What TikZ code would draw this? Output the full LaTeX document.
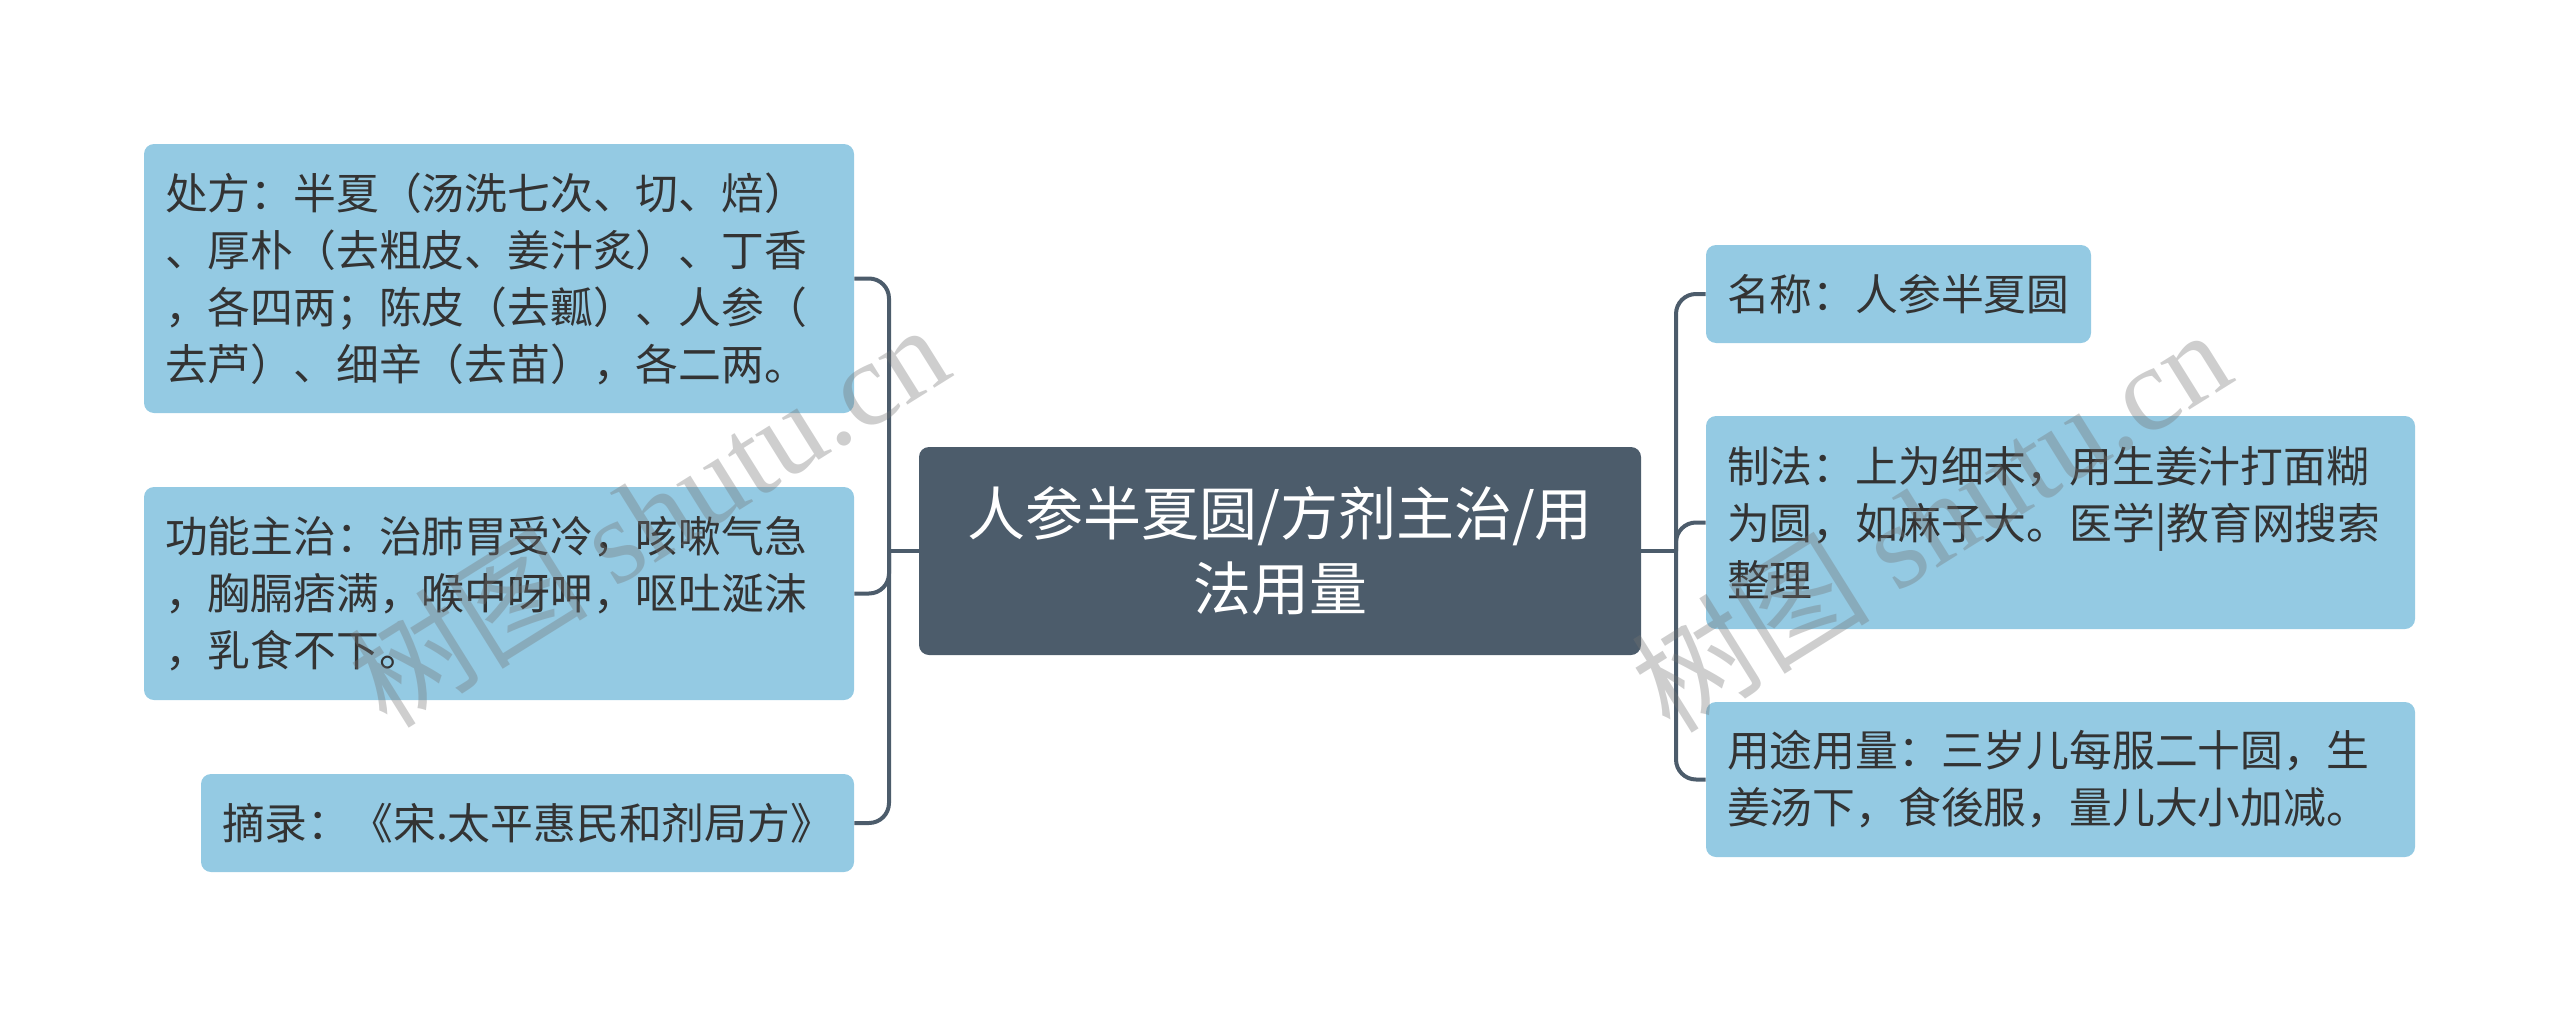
\documentclass[tikz,border=0pt]{standalone}
\usepackage{fontspec}
\setmainfont{Noto Sans CJK SC}
\newfontfamily\marksans{Noto Sans CJK SC}
\newfontfamily\markserif{Liberation Serif}
\usetikzlibrary{positioning}

\definecolor{leafblue}{RGB}{148,202,227}
\definecolor{rootslate}{RGB}{76,92,107}
\definecolor{inkgray}{RGB}{51,51,51}

\tikzset{
  leaf/.style={fill=leafblue, rounded corners=5pt, text=inkgray, align=left,
    inner xsep=10.5pt, inner ysep=0pt, font=\fontsize{21.4pt}{28.5pt}\selectfont},
  root/.style={fill=rootslate, rounded corners=5pt, text=white, align=center,
    minimum width=361pt, minimum height=104pt, font=\fontsize{29pt}{37.5pt}\selectfont},
  link/.style={draw=rootslate, line width=2pt, rounded corners=10pt},
  wmark/.style={text=black!55, opacity=0.35, rotate=32, font=\fontsize{60pt}{60pt}\selectfont}
}

\begin{document}
\begin{tikzpicture}[x=0.5pt, y=-0.5pt]
\useasboundingbox (0,0) rectangle (2560,1017);

% centre
\node[root] (root) at (1280,551) {人参半夏圆/方剂主治/用\\法用量};

% left side
\node[leaf, text width=334pt, minimum height=134.5pt] (presc) at (499,278.5)
  {处方：半夏（汤洗七次、切、焙）\\、厚朴（去粗皮、姜汁炙）、丁香\\，各四两；陈皮（去瓤）、人参（\\去芦）、细辛（去苗），各二两。};
\node[leaf, text width=334pt, minimum height=106.5pt] (func) at (499,593.5)
  {功能主治：治肺胃受冷，咳嗽气急\\，胸膈痞满，喉中呀呷，呕吐涎沫\\，乳食不下。};
\node[leaf, text width=305.5pt, minimum height=49pt] (source) at (527.5,823)
  {摘录：《宋.太平惠民和剂局方》};

% right side
\node[leaf, text width=171.5pt, minimum height=49pt] (name) at (1898.5,294)
  {名称：人参半夏圆};
\node[leaf, text width=333.5pt, minimum height=106.5pt] (make) at (2060.5,522.5)
  {制法：上为细末，用生姜汁打面糊\\为圆，如麻子大。医学|教育网搜索\\整理};
\node[leaf, text width=333.5pt, minimum height=77.5pt] (dose) at (2060.5,779.5)
  {用途用量：三岁儿每服二十圆，生\\姜汤下，食後服，量儿大小加减。};

% connectors
\coordinate (ljoint) at (889,551);
\coordinate (rjoint) at (1676,551);
\draw[link] (root.west) -- (ljoint);
\draw[link] (root.east) -- (rjoint);
\foreach \leafname in {presc, func, source}
  \draw[link] (ljoint) |- (\leafname.east);
\foreach \leafname in {name, make, dose}
  \draw[link] (rjoint) |- (\leafname.west);

% watermarks
\node[wmark] (wmleft) at (648,514) {{\marksans 树图} {\markserif shutu.cn}};
\node[wmark] (wmright) at (1930,519) {{\marksans 树图} {\markserif shutu.cn}};
\end{tikzpicture}
\end{document}
